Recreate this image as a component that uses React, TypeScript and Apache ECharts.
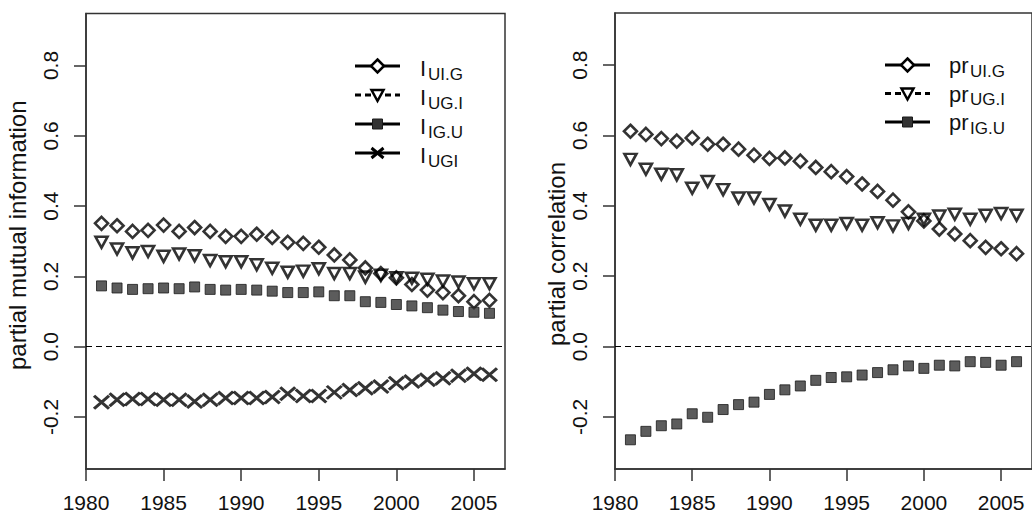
import { useEffect, useRef } from "react";
import * as echarts from "echarts";

const years = [1981, 1982, 1983, 1984, 1985, 1986, 1987, 1988, 1989, 1990, 1991, 1992, 1993, 1994, 1995, 1996, 1997, 1998, 1999, 2000, 2001, 2002, 2003, 2004, 2005, 2006];

const miUIG = [0.351, 0.344, 0.328, 0.331, 0.346, 0.328, 0.339, 0.328, 0.314, 0.314, 0.320, 0.311, 0.297, 0.294, 0.283, 0.261, 0.247, 0.224, 0.208, 0.196, 0.177, 0.161, 0.154, 0.145, 0.128, 0.132];
const miUGI = [0.297, 0.278, 0.267, 0.271, 0.257, 0.264, 0.259, 0.245, 0.242, 0.242, 0.233, 0.223, 0.212, 0.215, 0.222, 0.208, 0.208, 0.198, 0.203, 0.196, 0.195, 0.192, 0.187, 0.184, 0.179, 0.179];
const miIGU = [0.173, 0.167, 0.163, 0.165, 0.167, 0.165, 0.170, 0.163, 0.161, 0.163, 0.161, 0.158, 0.154, 0.154, 0.156, 0.145, 0.145, 0.128, 0.126, 0.120, 0.116, 0.111, 0.104, 0.100, 0.098, 0.095];
const miUGIall = [-0.158, -0.151, -0.149, -0.149, -0.151, -0.151, -0.156, -0.151, -0.146, -0.146, -0.146, -0.143, -0.134, -0.140, -0.140, -0.130, -0.123, -0.118, -0.113, -0.104, -0.099, -0.094, -0.090, -0.083, -0.077, -0.080];

const prUIG = [0.612, 0.603, 0.591, 0.584, 0.593, 0.575, 0.575, 0.561, 0.544, 0.535, 0.536, 0.527, 0.509, 0.497, 0.483, 0.462, 0.441, 0.416, 0.383, 0.357, 0.334, 0.320, 0.301, 0.282, 0.278, 0.264];
const prUGI = [0.532, 0.504, 0.490, 0.488, 0.450, 0.469, 0.446, 0.422, 0.422, 0.404, 0.385, 0.362, 0.345, 0.345, 0.350, 0.345, 0.352, 0.343, 0.350, 0.362, 0.371, 0.376, 0.362, 0.373, 0.378, 0.373];
const prIGU = [-0.265, -0.241, -0.225, -0.220, -0.191, -0.201, -0.179, -0.165, -0.158, -0.136, -0.123, -0.112, -0.096, -0.088, -0.086, -0.081, -0.074, -0.066, -0.055, -0.062, -0.053, -0.055, -0.043, -0.045, -0.053, -0.043];

const xTicks = [1980, 1985, 1990, 1995, 2000, 2005];
const yTicks = [-0.2, 0, 0.2, 0.4, 0.6, 0.8];

const leftLegend = [
  { main: "I", sub: "UI.G", sym: "diamond", dash: false },
  { main: "I", sub: "UG.I", sym: "triangle", dash: true },
  { main: "I", sub: "IG.U", sym: "square", dash: false },
  { main: "I", sub: "UGI", sym: "cross", dash: false },
];
const rightLegend = [
  { main: "pr", sub: "UI.G", sym: "diamond", dash: false },
  { main: "pr", sub: "UG.I", sym: "triangle", dash: true },
  { main: "pr", sub: "IG.U", sym: "square", dash: false },
];

const FONT = "'Liberation Sans', Arial, Helvetica, sans-serif";
const CROSS = "path://M0,0L10,10M10,0L0,10";

function pairs(vals: number[]) {
  return years.map((y, i) => [y, vals[i]]);
}

function mkX(i: number) {
  return {
    gridIndex: i,
    type: "value",
    min: 1980,
    max: 2007,
    splitLine: { show: false },
    axisLine: { show: true, onZero: false, lineStyle: { color: "#333", width: 1.5 } },
    axisTick: { show: true, length: 12, customValues: xTicks, lineStyle: { color: "#333", width: 1.5 } },
    axisLabel: {
      customValues: xTicks,
      fontSize: 21,
      color: "#111",
      margin: 23,
      fontFamily: FONT,
      formatter: (v: number) => String(Math.round(v)),
    },
  };
}

function mkY(i: number, name: string, nameGap: number, namePadding: number[]) {
  return {
    gridIndex: i,
    type: "value",
    min: -0.348,
    max: 0.948,
    splitLine: { show: false },
    axisLine: { show: true, onZero: false, lineStyle: { color: "#333", width: 1.5 } },
    axisTick: { show: true, length: 12, customValues: yTicks, lineStyle: { color: "#333", width: 1.5 } },
    axisLabel: {
      customValues: yTicks,
      rotate: 90,
      fontSize: 21,
      color: "#111",
      margin: 25,
      fontFamily: FONT,
      formatter: (v: number) => v.toFixed(1),
    },
    name,
    nameLocation: "middle",
    nameRotate: 90,
    nameGap,
    nameTextStyle: { fontSize: 24, color: "#111", fontFamily: FONT, padding: namePadding },
  };
}

const openStyle = { color: "rgba(0,0,0,0)", borderColor: "#000", borderWidth: 2.6 };

function diamondSeries(grid: number, vals: number[], withZero: boolean) {
  const s: any = {
    type: "scatter",
    xAxisIndex: grid,
    yAxisIndex: grid,
    symbol: "diamond",
    symbolSize: [13, 13],
    itemStyle: openStyle,
    data: pairs(vals),
  };
  if (withZero) {
    s.markLine = {
      silent: true,
      symbol: ["none", "none"],
      label: { show: false },
      lineStyle: { color: "#000", width: 1, type: [6, 4] },
      data: [{ yAxis: 0 }],
    };
  }
  return s;
}
function triangleSeries(grid: number, vals: number[]) {
  return {
    type: "scatter",
    xAxisIndex: grid,
    yAxisIndex: grid,
    symbol: "triangle",
    symbolRotate: 180,
    symbolSize: [12, 11],
    itemStyle: openStyle,
    data: pairs(vals),
  };
}
function squareSeries(grid: number, vals: number[]) {
  return {
    type: "scatter",
    xAxisIndex: grid,
    yAxisIndex: grid,
    symbol: "rect",
    symbolSize: 10,
    itemStyle: { color: "#333333", borderColor: "#1a1a1a", borderWidth: 1 },
    data: pairs(vals),
  };
}
function crossSeries(grid: number, vals: number[]) {
  return {
    type: "scatter",
    xAxisIndex: grid,
    yAxisIndex: grid,
    symbol: CROSS,
    symbolSize: [15, 13],
    itemStyle: { color: "rgba(0,0,0,0)", borderColor: "#000", borderWidth: 3 },
    data: pairs(vals),
  };
}

function legendGraphics(
  items: { main: string; sub: string; sym: string; dash: boolean }[],
  x1: number,
  x2: number,
  y0: number,
  dy: number,
  textX: number,
  subX: number,
  mainDy: number,
  subDy: number
) {
  const els: any[] = [];
  const cx = (x1 + x2) / 2;
  items.forEach((it, i) => {
    const y = y0 + i * dy;
    els.push({
      type: "line",
      shape: { x1, y1: y, x2, y2: y },
      style: { stroke: "#000", lineWidth: 3, lineDash: it.dash ? [6, 4] : null },
    });
    if (it.sym === "diamond") {
      els.push({
        type: "polygon",
        shape: { points: [[cx, y - 6.5], [cx + 6.5, y], [cx, y + 6.5], [cx - 6.5, y]] },
        style: { fill: "#fff", stroke: "#000", lineWidth: 2.5 },
      });
    } else if (it.sym === "triangle") {
      els.push({
        type: "polygon",
        shape: { points: [[cx - 6, y - 5], [cx + 6, y - 5], [cx, y + 6]] },
        style: { fill: "#fff", stroke: "#000", lineWidth: 2.5 },
      });
    } else if (it.sym === "square") {
      els.push({
        type: "rect",
        shape: { x: cx - 5, y: y - 5, width: 10, height: 10 },
        style: { fill: "#333333", stroke: "#1a1a1a", lineWidth: 1 },
      });
    } else {
      els.push({ type: "line", shape: { x1: cx - 6, y1: y - 5, x2: cx + 6, y2: y + 5 }, style: { stroke: "#000", lineWidth: 3 } });
      els.push({ type: "line", shape: { x1: cx - 6, y1: y + 5, x2: cx + 6, y2: y - 5 }, style: { stroke: "#000", lineWidth: 3 } });
    }
    els.push({
      type: "text",
      x: textX,
      y: y + mainDy,
      style: { text: it.main, fontSize: 22, fontFamily: FONT, fill: "#111", align: "left", verticalAlign: "middle" },
    });
    els.push({
      type: "text",
      x: subX,
      y: y + subDy,
      style: { text: it.sub, fontSize: 17, fontFamily: FONT, fill: "#111", align: "left", verticalAlign: "middle" },
    });
  });
  return els;
}

export default function App() {
  const ref = useRef<HTMLDivElement>(null);
  useEffect(() => {
    if (!ref.current) return;
    const chart = echarts.init(ref.current, undefined, { renderer: "svg" });
    const option: any = {
      animation: false,
      backgroundColor: "#fff",
      grid: [
        { left: 86, top: 13.5, width: 419, height: 455.5, show: true, borderColor: "#333", borderWidth: 1.5, backgroundColor: "rgba(0,0,0,0)" },
        { left: 615, top: 13, width: 420, height: 456, show: true, borderColor: "#333", borderWidth: 1.5, backgroundColor: "rgba(0,0,0,0)" },
      ],
      xAxis: [mkX(0), mkX(1)],
      yAxis: [
        mkY(0, "partial mutual information", 57, [0, 0, 0, 12]),
        mkY(1, "partial correlation", 46, [0, 26, 0, 0]),
      ],
      series: [
        diamondSeries(0, miUIG, true),
        triangleSeries(0, miUGI),
        squareSeries(0, miIGU),
        crossSeries(0, miUGIall),
        diamondSeries(1, prUIG, true),
        triangleSeries(1, prUGI),
        squareSeries(1, prIGU),
      ],
      graphic: [
        ...legendGraphics(leftLegend, 355, 400, 66, 29, 420, 428, 2.4, 8),
        ...legendGraphics(rightLegend, 885, 930, 65, 28.5, 949, 970, 0.7, 6.3),
      ],
    };
    chart.setOption(option);
    return () => chart.dispose();
  }, []);
  return <div ref={ref} style={{ position: "absolute", left: 0, top: 0, width: 1032, height: 520, background: "#fff" }} />;
}
